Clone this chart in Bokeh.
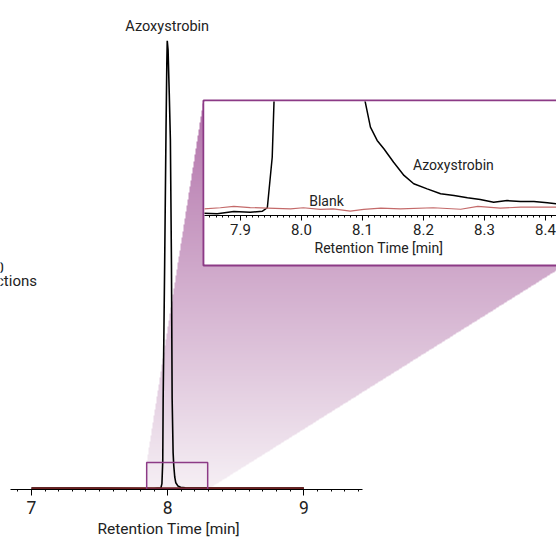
import numpy as np
from bokeh.plotting import figure
from bokeh.models import GridBox, Range1d, SingleIntervalTicker, NumeralTickFormatter, Title
from bokeh.embed import file_html
from bokeh.resources import INLINE
from bokeh.core.properties import value

# ---------------- data ----------------
# full chromatogram, Azoxystrobin injection
azo_time = [7.000, 7.500, 7.900, 7.950, 7.958, 7.964, 7.967, 7.978, 7.988, 7.994, 7.997,
            8.003, 8.012, 8.020, 8.028, 8.033, 8.040, 8.045, 8.052, 8.060, 8.075, 8.095,
            8.130, 8.200, 9.000]
azo_signal = [0.0, 0.0, -0.1, 0.0, 1.0, 6.0, 20.0, 50.0, 80.0, 95.0, 100.0,
              98.0, 88.0, 78.0, 50.0, 20.0, 8.0, 5.0, 2.5, 1.2, 0.5, 0.2,
              0.1, 0.0, 0.0]
# full chromatogram, blank injection
blank_time = [7.0, 9.0]
blank_signal = [0.0, 0.0]

# zoomed view (inset)
zoom_azo_time = [7.840, 7.862, 7.889, 7.916, 7.936, 7.944, 7.952, 7.955, 7.997,
                 8.104, 8.113, 8.124, 8.135, 8.151, 8.168, 8.184, 8.206, 8.228,
                 8.250, 8.272, 8.293, 8.315, 8.337, 8.359, 8.381, 8.403, 8.418]
zoom_azo_signal = [-0.18, -0.21, -0.09, -0.13, -0.07, 0.11, 2.78, 5.78, 100.0,
                   5.78, 4.37, 3.67, 3.23, 2.52, 1.82, 1.38, 1.11, 0.85,
                   0.76, 0.64, 0.55, 0.40, 0.49, 0.44, 0.44, 0.37, 0.32]
zoom_blank_time = [7.840, 7.867, 7.889, 7.916, 7.944, 7.982, 8.003, 8.031, 8.052, 8.080,
                   8.102, 8.130, 8.162, 8.216, 8.261, 8.289, 8.326, 8.359, 8.418]
zoom_blank_signal = [0.05, 0.11, 0.18, 0.12, 0.09, 0.05, 0.11, 0.02, 0.05, -0.07,
                     0.02, 0.09, 0.05, 0.11, 0.03, 0.18, 0.09, 0.14, 0.14]

zoom_box_x = (7.846, 8.294)
zoom_box_y = (-0.3, 5.73)

x_label = "Retention Time [min]"

# ---------------- layout / style constants ----------------
FONT = "Roboto"
TXT = "#222222"
W, H = 556, 541
MAIN_FRAME_H = 489
MAIN_X0, MAIN_PX_PER_MIN = 6.7723, 136.15
MAIN_Y0, MAIN_PX_PER_UNIT = -0.3, 4.474
IN_LEFT, IN_TOP, IN_W, IN_H = 204, 101, 352, 163
IN_BORDER = (203, 100, 564, 265)       # px: left, top, right, bottom
IN_X = (7.841, 8.418)
IN_Y = (-0.3, 5.73)
PURPLE = "#8c3a86"
MAIN_LABEL_LEFT = 97      # px where the main axis title starts
INSET_LABEL_LEFT = 110    # px (inside inset) where the inset axis title starts

def mx(px):
    return MAIN_X0 + px / MAIN_PX_PER_MIN

def my(py):
    return MAIN_Y0 + (MAIN_FRAME_H - py) / MAIN_PX_PER_UNIT

def mpx(x):
    return (x - MAIN_X0) * MAIN_PX_PER_MIN

def mpy(y):
    return MAIN_FRAME_H - (y - MAIN_Y0) * MAIN_PX_PER_UNIT

# ---------------- main figure ----------------
p = figure(width=W, height=H, output_backend="svg", toolbar_location=None,
           x_range=Range1d(mx(0), mx(W)),
           y_range=Range1d(MAIN_Y0, my(0)),
           min_border_left=0, min_border_right=0, min_border_top=0, min_border_bottom=H - MAIN_FRAME_H)
p.outline_line_color = None
p.grid.visible = False
p.yaxis.visible = False
p.background_fill_color = "white"
p.border_fill_color = "white"

ax = p.xaxis[0]
ax.ticker = SingleIntervalTicker(interval=1, num_minor_ticks=10)
ax.bounds = (mx(10), mx(362))
ax.major_label_text_font = FONT
ax.major_label_text_font_size = "17.5px"
ax.major_label_text_color = TXT
ax.major_label_standoff = 5
ax.major_tick_out = 6
ax.major_tick_in = 0
ax.minor_tick_out = 2
ax.minor_tick_in = 0
ax.axis_line_color = "black"

# axis title under the drawn part of the axis
p.add_layout(Title(text=x_label, align="left", offset=MAIN_LABEL_LEFT,
                   text_font=FONT, text_font_size="15.5px", text_font_style="normal",
                   text_color=TXT, standoff=2), "below")

# gradient fan joining the zoom box to the inset
bx0, bx1 = mpx(zoom_box_x[0]), mpx(zoom_box_x[1])
by_bot, by_top = mpy(zoom_box_y[0]), mpy(zoom_box_y[1])
L, T, R, B = IN_BORDER
poly = np.array([(bx0, by_bot), (bx0, by_top), (L, T), (R, T), (R, B), (bx1, by_bot)])
px0, px1 = int(np.floor(bx0)), W
py0, py1 = T, int(np.ceil(by_bot))
xs = np.arange(px0, px1) + 0.5
ys = np.arange(py0, py1) + 0.5
X, Y = np.meshgrid(xs, ys)
inside = np.ones_like(X, dtype=bool)
for i in range(len(poly)):
    ax_, ay_ = poly[i]
    bx_, by_ = poly[(i + 1) % len(poly)]
    cross = (bx_ - ax_) * (Y - ay_) - (by_ - ay_) * (X - ax_)
    inside &= cross >= -0.5
t = np.clip((Y - T) / (by_bot - T), 0, 1)
top_c = np.array([178, 114, 170])
bot_c = np.array([246, 240, 245])
img = np.zeros(X.shape + (4,), dtype=np.uint8)
for k in range(3):
    img[..., k] = (top_c[k] * (1 - t) + bot_c[k] * t).astype(np.uint8)
img[..., 3] = np.where(inside, 255, 0)
img = img[::-1]  # first row is the bottom
rgba = img.view(dtype=np.uint32).reshape(X.shape)
p.image_rgba(image=[rgba], x=mx(px0), y=my(py1), dw=(px1 - px0) / MAIN_PX_PER_MIN,
             dh=(py1 - py0) / MAIN_PX_PER_UNIT)

# inset border (inset figure is laid over it)
p.quad(left=[mx(L)], right=[mx(R + 10)], top=[my(T)], bottom=[my(B)],
       fill_color="white", line_color=PURPLE, line_width=2)

# traces
p.line(azo_time, azo_signal, line_color="black", line_width=1.6)
p.line(blank_time, blank_signal, line_color="#6e2020", line_width=2)

# zoom box
p.quad(left=[zoom_box_x[0]], right=[zoom_box_x[1]], bottom=[zoom_box_y[0]], top=[zoom_box_y[1]],
       fill_color=None, line_color=PURPLE, line_width=1.5)

# peak label
imax = int(np.argmax(azo_signal))
p.text(x=[azo_time[imax]], y=[azo_signal[imax]], text=["Azoxystrobin"], y_offset=-14,
       text_align="center", text_baseline="alphabetic", text_font=value(FONT),
       text_font_size="14.5px", text_color=TXT)

# text cut at the left edge of the picture
p.text(x=[mx(3.5)], y=[my(267)], text=["n = 10"], text_align="right",
       text_baseline="alphabetic", text_font=value(FONT), text_font_size="15px", text_color=TXT)
p.text(x=[mx(-28)], y=[my(280)], text=["injections"], text_align="left",
       text_baseline="alphabetic", text_font=value(FONT), text_font_size="15px", text_color=TXT)

# ---------------- inset figure ----------------
q = figure(width=IN_W, height=IN_H, output_backend="svg", toolbar_location=None,
           x_range=Range1d(*IN_X), y_range=Range1d(*IN_Y),
           min_border_left=0, min_border_right=0, min_border_top=0, min_border_bottom=49)
q.outline_line_color = None
q.grid.visible = False
q.yaxis.visible = False
q.background_fill_color = "white"
q.border_fill_color = "white"
qa = q.xaxis[0]
qa.ticker = SingleIntervalTicker(interval=0.1, num_minor_ticks=10)
qa.formatter = NumeralTickFormatter(format="0.0")
qa.major_label_text_font = FONT
qa.major_label_text_font_size = "15px"
qa.major_label_text_color = TXT
qa.major_label_standoff = 3
qa.major_tick_out = 5
qa.major_tick_in = 0
qa.minor_tick_out = 2
qa.minor_tick_in = 0
q.add_layout(Title(text=x_label, align="left", offset=INSET_LABEL_LEFT,
                   text_font=FONT, text_font_size="14px", text_font_style="normal",
                   text_color=TXT, standoff=1), "below")

q.line(zoom_azo_time, zoom_azo_signal, line_color="black", line_width=1.5)
q.line(zoom_blank_time, zoom_blank_signal, line_color="#c46a6a", line_width=1.2)
q.text(x=[8.249], y=[2.35], text=["Azoxystrobin"], text_align="center", text_baseline="alphabetic",
       text_font=value(FONT), text_font_size="14px", text_color=TXT)
q.text(x=[8.041], y=[0.49], text=["Blank"], text_align="center", text_baseline="alphabetic",
       text_font=value(FONT), text_font_size="14px", text_color=TXT)

grid = GridBox(children=[(p, 0, 0, 3, 2), (q, 1, 1, 1, 1)],
               rows=[f"{IN_TOP}px", f"{IN_H}px", f"{H - IN_TOP - IN_H}px"],
               cols=[f"{IN_LEFT}px", f"{IN_W}px"],
               width=W, height=H)

open("out.html", "w").write(file_html(grid, INLINE))
